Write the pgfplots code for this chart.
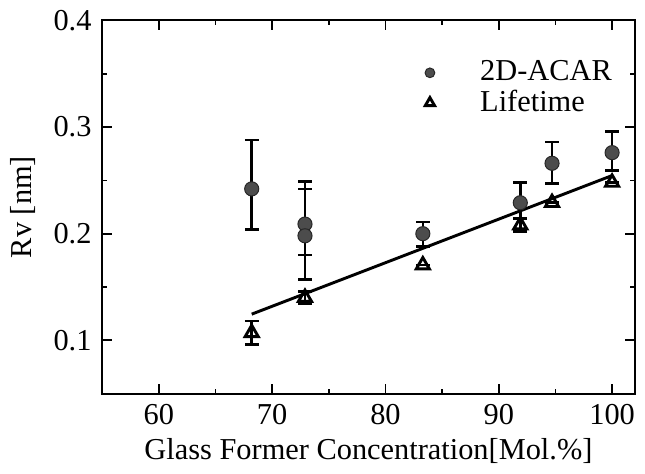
\documentclass[border=0pt]{standalone}
\usepackage{fontspec}
\setmainfont{Liberation Serif}
\usepackage{pgfplots}
\pgfplotsset{compat=1.18}
\usepackage{pgfplotstable}

\pgfplotstableread{
x y ep em
68.2 0.242 0.046 0.038
72.9 0.209 0.040 0.029
72.9 0.198 0.044 0.041
83.3 0.200 0.011 0.012
91.9 0.229 0.019 0.015
94.7 0.266 0.020 0.019
100.0 0.276 0.020 0.017
}\acar

\pgfplotstableread{
x y ep em
68.2 0.107 0.011 0.011
72.9 0.140 0.006 0.006
83.3 0.1705 0.0 0.0
91.9 0.208 0.006 0.006
94.7 0.229 0.0 0.0
100.0 0.248 0.0 0.0
}\life

\pgfplotstableread{
x y
68.2 0.1245
100.0 0.2545
}\fit

\begin{document}
\fontsize{12.5}{14}\selectfont
\begin{tikzpicture}
\begin{axis}[
  scale only axis,
  width=218.4bp, height=153bp,
  xmin=55, xmax=102, ymin=0.05, ymax=0.4,
  xtick={60,70,80,90,100},
  minor xtick={65,75,85,95},
  ytick={0.1,0.2,0.3,0.4},
  minor ytick={0.15,0.25,0.35},
  yticklabel style={/pgf/number format/fixed, /pgf/number format/precision=1},
  /pgf/number format/assume math mode=true,
  tick align=inside,
  major tick length=4bp, minor tick length=2bp,
  tick style={black, line width=0.7pt},
  axis line style={line width=0.8pt},
  every tick label/.append style={font=\fontsize{12.5}{14}\selectfont},
  xlabel={Glass Former Concentration[Mol.\%]},
  ylabel={Rv [nm]},
  label style={font=\fontsize{12.5}{14}\selectfont},
  xlabel style={yshift=3bp},
  ylabel style={yshift=-1bp},
  legend style={draw=none, fill=none, at={(0.561,0.92)}, anchor=north west,
    font=\fontsize{12.5}{14}\selectfont, row sep=-2bp},
  legend cell align=left,
  legend image code/.code={\path (0cm,0cm) (0.95cm,0cm);
    \draw[mark repeat=2,mark phase=2,#1] plot coordinates {(0cm,0cm)(0.3cm,0cm)(0.6cm,0cm)};},
]
\addplot[only marks, mark=*, mark size=2.9bp, draw=black!85, fill=black!70,
  legend image post style={mark size=2bp},
  error bars/.cd, y dir=both, y explicit,
  error bar style={black, line width=1.1pt},
  error mark options={black, line width=1.1pt, mark size=2.8bp, rotate=90}]
  table[x=x, y=y, y error plus=ep, y error minus=em] {\acar};
\addlegendentry{2D-ACAR}
\addplot[only marks, mark=triangle, mark size=3.1bp, mark options={line width=1.2pt, fill=white, draw=black},
  legend image post style={mark size=2.2bp},
  error bars/.cd, y dir=both, y explicit,
  error bar style={black, line width=1.1pt},
  error mark options={black, line width=1.1pt, mark size=2.8bp, rotate=90}]
  table[x=x, y=y, y error plus=ep, y error minus=em] {\life};
\addlegendentry{Lifetime}
\addplot[black, line width=1.2pt, forget plot] table[x=x, y=y] {\fit};
\end{axis}
\end{tikzpicture}
\end{document}
